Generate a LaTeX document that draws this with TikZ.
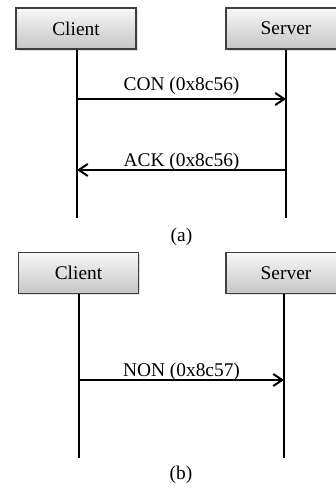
\documentclass[tikz,border=0pt]{standalone}
\usepackage{fontspec}
\setmainfont{Liberation Serif}
\usetikzlibrary{positioning, arrows.meta, shadows}

\begin{document}
\begin{tikzpicture}[x=0.5pt,y=-0.5pt]
  \tikzset{BoxStyle/.style = {
    shape         = rectangle,
    draw          = black!75,
    top color     = gray!6,
    bottom color  = gray!45,
    line width    = 0.6pt,
    text          = black,
    minimum width = 60pt,
    minimum height= 20.5pt,
    inner sep     = 0pt,
    drop shadow   = {opacity=0.25, shadow xshift=0.8pt, shadow yshift=-0.8pt}
    }
  }
  \tikzset{LifeStyle/.style = {
    draw          = black,
    line width    = 1pt
    }
  }
  \tikzset{MsgStyle/.style = {
    draw          = black,
    line width    = 1pt,
    -{Straight Barb[length=4.5pt,width=6pt,line width=1pt]}
    }
  }
  \tikzset{LabelStyle/.style = {
    midway,
    anchor        = base,
    inner sep     = 0pt,
    font          = \fontsize{9.7}{12}\selectfont
    }
  }
  \useasboundingbox (0,0) rectangle (336,491);
  \begin{scope}
  \clip (0,0) rectangle (336,491);

  % (a) confirmable
	\node[BoxStyle, font=\fontsize{9.7}{12}\selectfont](A1) at (76, 28.5) {Client};
	\node[BoxStyle, font=\fontsize{9.7}{12}\selectfont](A2) at (286, 28.5) {Server};
	\coordinate (A1e) at (77, 218);
	\coordinate (A2e) at (286, 218);
	\coordinate (A1m1) at (77, 99);
	\coordinate (A2m1) at (286, 99);
	\coordinate (A1m2) at (77, 170);
	\coordinate (A2m2) at (286, 170);
	\draw[LifeStyle](A1e |- A1.south) to (A1e);
	\draw[LifeStyle](A2e |- A2.south) to (A2e);
	\draw[MsgStyle](A1m1) to node[LabelStyle, yshift=4.1pt]{CON (0x8c56)} (A2m1);
	\draw[MsgStyle](A2m2) to node[LabelStyle, yshift=1.7pt]{ACK (0x8c56)} (A1m2);
	\node[font=\fontsize{9.7}{12}\selectfont](capA) at (181.5, 237) {(a)};

  % (b) non-confirmable
	\node[BoxStyle, font=\fontsize{9.7}{12}\selectfont](B1) at (78.5, 273) {Client};
	\node[BoxStyle, font=\fontsize{9.7}{12}\selectfont](B2) at (286, 273) {Server};
	\coordinate (B1e) at (79, 458);
	\coordinate (B2e) at (284, 458);
	\coordinate (B1m1) at (79, 380);
	\coordinate (B2m1) at (284, 380);
	\draw[LifeStyle](B1e |- B1.south) to (B1e);
	\draw[LifeStyle](B2e |- B2.south) to (B2e);
	\draw[MsgStyle](B1m1) to node[LabelStyle, yshift=1.6pt]{NON (0x8c57)} (B2m1);
	\node[font=\fontsize{9.7}{12}\selectfont](capB) at (181, 475) {(b)};
  \end{scope}
\end{tikzpicture}
\end{document}
